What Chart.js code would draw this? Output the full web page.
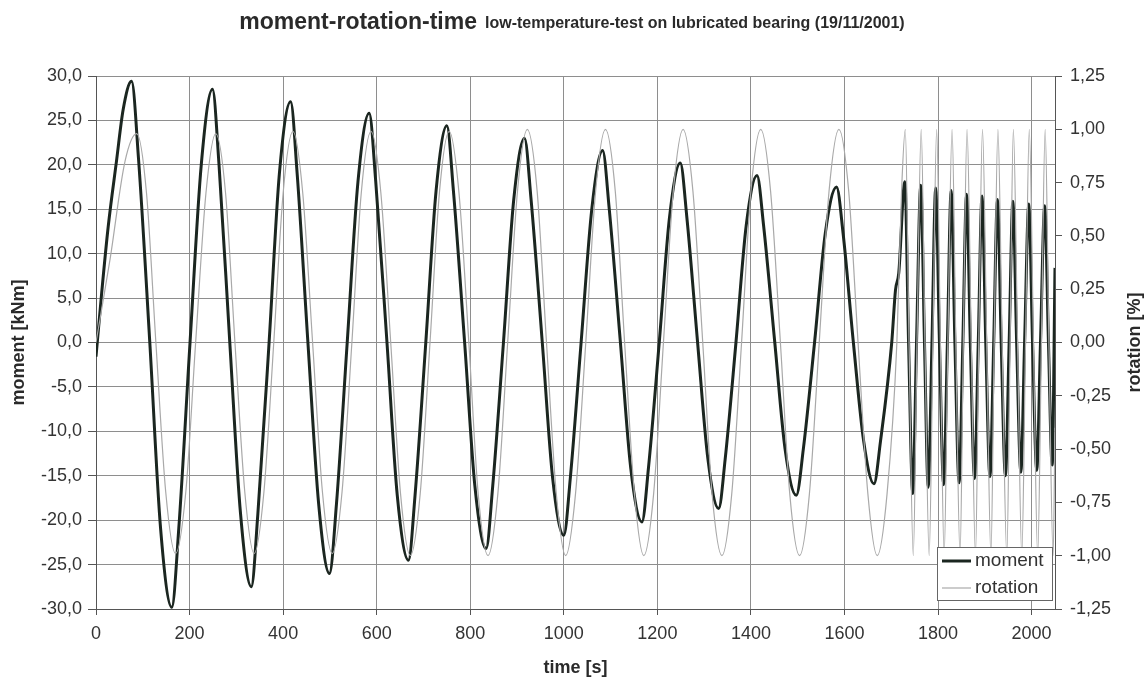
<!DOCTYPE html>
<html>
<head>
<meta charset="utf-8">
<script src="https://cdn.jsdelivr.net/npm/chart.js@4.4.0/dist/chart.umd.min.js"></script>
<style>
  html, body { margin: 0; padding: 0; background: #fff; }
</style>
</head>
<body>
<canvas id="chart" width="1145" height="679"></canvas>
<script>
// moment [kNm] over time [s]: slow cycles, then the fast cycles after ~1720 s
const momentTime = [
  0, 12, 26, 44, 58, 76,
  91, 115, 138, 162,
  177, 201, 225, 249,
  263, 286, 309, 332,
  346, 370, 392, 416,
  430, 453, 476, 499,
  514, 537, 560, 584,
  598, 622, 644, 668,
  682, 705, 727, 750,
  764, 788, 810, 834,
  848, 871, 893, 916,
  930, 954, 976, 1000,
  1014, 1037, 1060, 1083,
  1097, 1121, 1143, 1167,
  1181, 1204, 1226, 1249,
  1263, 1286, 1308, 1331,
  1345, 1368, 1390, 1413,
  1427, 1451, 1473, 1497,
  1512, 1536, 1559, 1583,
  1597, 1619, 1641, 1663,
  1677, 1701, 1709, 1716, 1729,
  1737, 1746, 1754, 1763, 1771, 1779, 1787, 1795, 1803, 1812,
  1820, 1828, 1836, 1845, 1853, 1861, 1869, 1878, 1886, 1894,
  1902, 1911, 1919, 1927, 1935, 1944, 1952, 1960, 1968, 1977,
  1985, 1994, 2002, 2011, 2019, 2028, 2036, 2044, 2050
];
const momentValue = [
  -1.6, 5.5, 13.0, 20.5, 26.2, 29.4,
  20.6, 0, -20.9, -29.8,
  -20.9, 0, 20.0, 28.5,
  20.0, 0, -19.3, -27.5,
  -19.3, 0, 19.0, 27.1,
  19.0, 0, -18.2, -26.0,
  -18.2, 0, 18.1, 25.8,
  18.1, 0, -17.2, -24.5,
  -17.2, 0, 17.1, 24.4,
  17.1, 0, -16.2, -23.2,
  -16.2, 0, 16.1, 23.0,
  16.1, 0, -15.2, -21.7,
  -15.2, 0, 15.1, 21.6,
  15.1, 0, -14.1, -20.2,
  -14.1, 0, 14.1, 20.2,
  14.1, 0, -13.1, -18.7,
  -13.1, 0, 13.2, 18.8,
  13.2, 0, -12.0, -17.2,
  -12.0, 0, 12.3, 17.5,
  12.3, 0, -11.1, -15.9,
  -11.1, 0, 5.9, 7.8, 18.1,
  0, -17.0, 0, 17.7, 0, -16.3, 0, 17.4, 0, -16.0,
  0, 17.1, 0, -15.8, 0, 16.7, 0, -15.3, 0, 16.5,
  0, -15.1, 0, 16.1, 0, -15.0, 0, 15.9, 0, -14.6,
  0, 15.6, 0, -14.4, 0, 15.4, 0, -13.8, 8.4
];

// rotation [%] over time [s]
const rotationTime = [
  0, 30, 62, 87,
  108, 128, 149, 170,
  192, 213, 235, 256,
  277, 297, 318, 338,
  359, 380, 400, 421,
  442, 463, 484, 505,
  526, 547, 567, 588,
  609, 630, 651, 672,
  693, 714, 734, 755,
  776, 797, 817, 838,
  859, 880, 901, 922,
  943, 963, 984, 1004,
  1025, 1047, 1068, 1089,
  1110, 1130, 1151, 1171,
  1192, 1213, 1234, 1255,
  1276, 1297, 1317, 1338,
  1359, 1380, 1400, 1421,
  1442, 1463, 1483, 1504,
  1525, 1546, 1567, 1588,
  1609, 1629, 1650, 1670,
  1691, 1712, 1722, 1730,
  1738, 1747, 1755, 1764, 1772, 1781, 1789, 1797, 1805, 1813,
  1821, 1830, 1838, 1847, 1854, 1862, 1871, 1880, 1887, 1895,
  1904, 1913, 1920, 1928, 1937, 1947, 1954, 1961, 1970, 1979,
  1987, 1995, 2004, 2013, 2021, 2029, 2037, 2046, 2050
];
const rotationValue = [
  0, 0.39, 0.85, 0.98,
  0.70, 0, -0.70, -0.99,
  -0.70, 0, 0.70, 0.98,
  0.70, 0, -0.70, -0.99,
  -0.70, 0, 0.70, 0.99,
  0.70, 0, -0.70, -0.99,
  -0.70, 0, 0.70, 0.99,
  0.70, 0, -0.71, -1.0,
  -0.71, 0, 0.70, 0.99,
  0.70, 0, -0.71, -1.0,
  -0.71, 0, 0.71, 1.0,
  0.71, 0, -0.71, -1.0,
  -0.71, 0, 0.71, 1.0,
  0.71, 0, -0.71, -1.0,
  -0.71, 0, 0.71, 1.0,
  0.71, 0, -0.71, -1.0,
  -0.71, 0, 0.71, 1.0,
  0.71, 0, -0.71, -1.0,
  -0.71, 0, 0.71, 1.0,
  0.71, 0, -0.71, -1.0,
  -0.71, 0, 0.71, 1.0,
  0, -1.0, 0, 1.0, 0, -1.0, 0, 1.0, 0, -1.0,
  0, 1.0, 0, -1.0, 0, 1.0, 0, -1.0, 0, 1.0,
  0, -1.0, 0, 1.0, 0, -1.0, 0, 1.0, 0, -1.0,
  0, 1.0, 0, -1.0, 0, 1.0, 0, -1.0, -0.4
];

const chartTitle = 'moment-rotation-time';
const chartSubtitle = 'low-temperature-test on lubricated bearing (19/11/2001)';
const xTitle = 'time [s]';
const yTitle = 'moment [kNm]';
const y1Title = 'rotation [%]';
const seriesNames = ['moment', 'rotation'];

const FONT = '"Liberation Sans", Arial, sans-serif';
const TEXT = '#333';
const GRID = '#8e8e8e';
const AXIS = '#555';
const MOMENT_COLOR = '#1b2620';
const ROTATION_COLOR = '#a9a9a9';

const comma = (v, d) => v.toFixed(d).replace('.', ',');

// titles, axis titles and the boxed legend, drawn on top of the chart
const textPlugin = {
  id: 'textPlugin',
  afterDraw(chart) {
    const ctx = chart.ctx;
    const a = chart.chartArea;
    ctx.save();
    ctx.fillStyle = '#2a2a2a';
    ctx.textBaseline = 'alphabetic';

    ctx.font = 'bold 23px ' + FONT;
    const w1 = ctx.measureText(chartTitle).width;
    ctx.font = 'bold 16px ' + FONT;
    const w2 = ctx.measureText(chartSubtitle).width;
    const x0 = 572 - (w1 + 8 + w2) / 2;
    ctx.font = 'bold 23px ' + FONT;
    ctx.textAlign = 'left';
    ctx.fillText(chartTitle, x0, 29);
    ctx.font = 'bold 16px ' + FONT;
    ctx.fillText(chartSubtitle, x0 + w1 + 8, 28);

    // axis titles
    ctx.font = 'bold 18px ' + FONT;
    ctx.textAlign = 'center';
    ctx.textBaseline = 'middle';
    ctx.fillText(xTitle, (a.left + a.right) / 2, a.bottom + 59);
    const midY = (a.top + a.bottom) / 2;
    [[a.left - 77, yTitle], [a.right + 80, y1Title]].forEach(([x, t]) => {
      ctx.save();
      ctx.translate(x, midY);
      ctx.rotate(-Math.PI / 2);
      ctx.fillText(t, 0, 0);
      ctx.restore();
    });

    // legend box
    const lx = a.right - 118, ly = a.bottom - 62, lw = 115, lh = 53;
    ctx.fillStyle = '#fff';
    ctx.fillRect(lx, ly, lw, lh);
    ctx.strokeStyle = '#666';
    ctx.lineWidth = 1;
    ctx.strokeRect(lx + 0.5, ly + 0.5, lw, lh);
    const rows = [[seriesNames[0], MOMENT_COLOR, 3], [seriesNames[1], ROTATION_COLOR, 1.2]];
    ctx.font = '19px ' + FONT;
    ctx.textAlign = 'left';
    rows.forEach(([name, col, w], i) => {
      const yy = ly + 14 + i * 27;
      ctx.strokeStyle = col;
      ctx.lineWidth = w;
      ctx.beginPath();
      ctx.moveTo(lx + 5, yy);
      ctx.lineTo(lx + 34, yy);
      ctx.stroke();
      ctx.fillStyle = '#333';
      ctx.fillText(name, lx + 38, yy);
    });
    ctx.restore();
  }
};

const toPoints = (xs, ys) => xs.map((x, i) => ({ x: x, y: ys[i] }));

new Chart(document.getElementById('chart'), {
  type: 'line',
  data: {
    datasets: [
      {
        label: seriesNames[0],
        data: toPoints(momentTime, momentValue),
        yAxisID: 'y',
        borderColor: MOMENT_COLOR,
        borderWidth: 3,
        pointRadius: 0,
        cubicInterpolationMode: 'monotone',
        order: 2
      },
      {
        label: seriesNames[1],
        data: toPoints(rotationTime, rotationValue),
        yAxisID: 'y1',
        borderColor: ROTATION_COLOR,
        borderWidth: 1.2,
        pointRadius: 0,
        cubicInterpolationMode: 'monotone',
        order: 1
      }
    ]
  },
  options: {
    responsive: false,
    animation: false,
    layout: { padding: { top: 76, left: 0, right: 0, bottom: 0 } },
    plugins: {
      legend: { display: false },
      tooltip: { enabled: false }
    },
    scales: {
      x: {
        type: 'linear',
        min: 0,
        max: 2050,
        ticks: {
          stepSize: 200,
          includeBounds: false,
          maxRotation: 0,
          autoSkip: false,
          padding: 8,
          color: TEXT,
          font: { family: FONT, size: 18 },
          callback: v => String(v)
        },
        grid: { color: GRID, tickLength: 6, tickColor: AXIS },
        border: { color: AXIS },
        afterFit: s => { s.height = 70; }
      },
      y: {
        position: 'left',
        min: -30,
        max: 30,
        ticks: {
          stepSize: 5,
          padding: 6,
          color: TEXT,
          font: { family: FONT, size: 18 },
          callback: v => comma(v, 1)
        },
        grid: { color: GRID, tickLength: 8, tickColor: AXIS },
        border: { color: AXIS },
        afterFit: s => { s.width = 96; }
      },
      y1: {
        position: 'right',
        min: -1.25,
        max: 1.25,
        ticks: {
          stepSize: 0.25,
          padding: 8,
          color: TEXT,
          font: { family: FONT, size: 18 },
          callback: v => comma(v, 2)
        },
        grid: { drawOnChartArea: false, tickLength: 7, tickColor: AXIS },
        border: { color: AXIS },
        afterFit: s => { s.width = 90; }
      }
    }
  },
  plugins: [textPlugin]
});
</script>
</body>
</html>
